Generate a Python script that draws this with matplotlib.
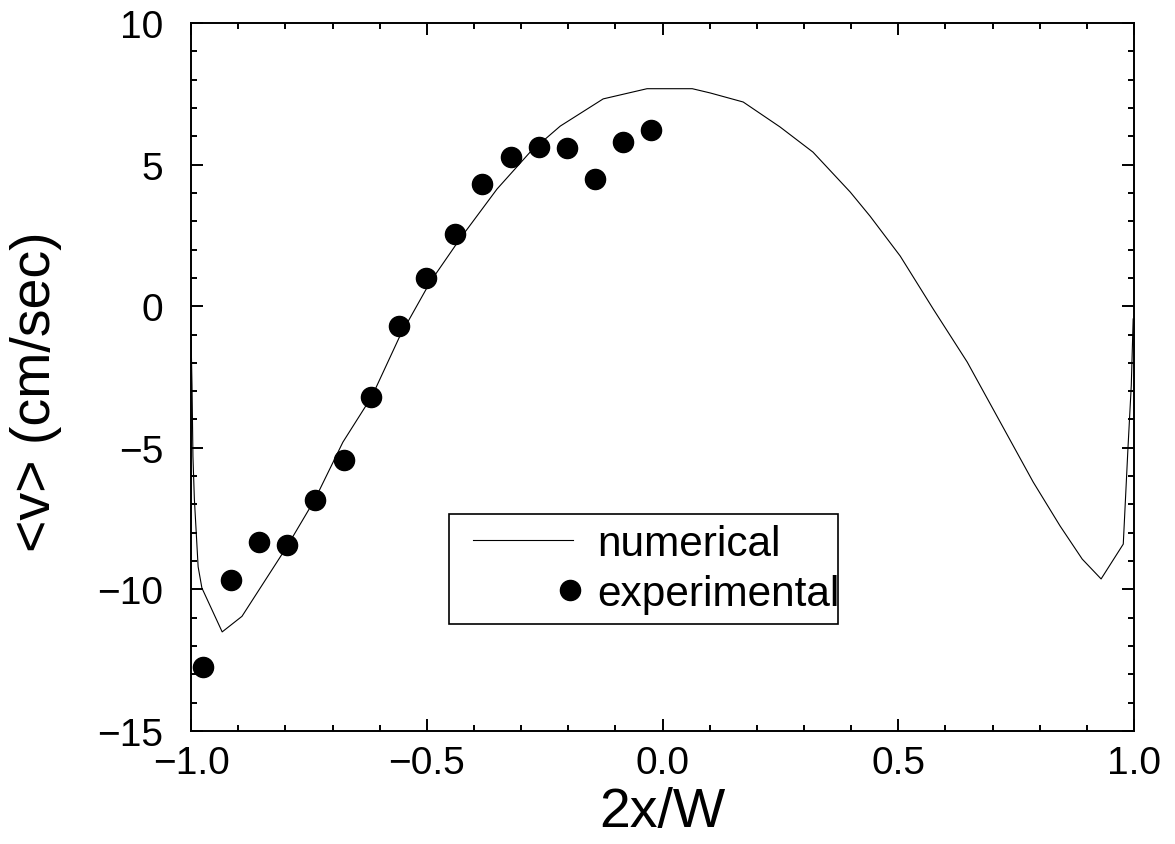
import matplotlib
matplotlib.use("Agg")
import matplotlib.pyplot as plt
from matplotlib.ticker import MultipleLocator
from matplotlib.legend_handler import HandlerLine2D

plt.rcParams['font.family'] = ['Liberation Sans', 'DejaVu Sans']

# numerical profile
num_x = [-1.0, -0.998, -0.996, -0.993, -0.985, -0.977, -0.934, -0.892, -0.796,
         -0.737, -0.678, -0.616, -0.557, -0.493, -0.430, -0.351, -0.281, -0.217,
         -0.126, -0.033, 0.063, 0.101, 0.171, 0.249, 0.319, 0.398, 0.440, 0.504,
         0.574, 0.646, 0.716, 0.786, 0.843, 0.890, 0.930, 0.977, 0.987, 0.994, 0.998]
num_v = [-1.1, -2.8, -5.3, -6.8, -9.2, -9.95, -11.5, -10.95, -8.47,
         -6.81, -4.80, -3.17, -1.05, 0.85, 2.37, 4.14, 5.44, 6.36,
         7.32, 7.68, 7.68, 7.53, 7.21, 6.33, 5.44, 4.03, 3.18, 1.77,
         -0.10, -1.97, -4.09, -6.21, -7.76, -8.93, -9.63, -8.4, -5.0, -2.8, -0.45]

# experimental points
exp_x = [-0.975, -0.915, -0.856, -0.796, -0.737, -0.676, -0.618, -0.559, -0.502,
         -0.440, -0.383, -0.321, -0.262, -0.203, -0.143, -0.084, -0.024]
exp_v = [-12.74, -9.67, -8.33, -8.43, -6.84, -5.43, -3.21, -0.70, 1.00,
         2.55, 4.31, 5.27, 5.62, 5.59, 4.49, 5.80, 6.22]


class InsetLine(HandlerLine2D):
    # legend line that does not fill the whole handle box
    def get_xdata(self, legend, xdescent, ydescent, width, height, fontsize):
        x0 = -xdescent + 0.33 * fontsize
        x1 = -xdescent + width - 0.27 * fontsize
        return [x0, x1], [(x0 + x1) / 2]


class EndMarker(HandlerLine2D):
    # legend dot sits at the right end of the handle, next to the text
    def get_xdata(self, legend, xdescent, ydescent, width, height, fontsize):
        end = -xdescent + width - 0.34 * fontsize
        return [end - 1, end + 1], [end]


fig = plt.figure(figsize=(11.75, 8.45), dpi=100)
ax = fig.add_axes([0.1626, 0.1337, 0.8026, 0.8379])

line, = ax.plot(num_x, num_v, color='black', lw=0.8, label='numerical')
dots, = ax.plot(exp_x, exp_v, 'o', color='black', ms=14.5, label='experimental')

ax.set_xlim(-1, 1)
ax.set_ylim(-15, 10)
ax.xaxis.set_major_locator(MultipleLocator(0.5))
ax.xaxis.set_minor_locator(MultipleLocator(0.1))
ax.yaxis.set_major_locator(MultipleLocator(5))
ax.yaxis.set_minor_locator(MultipleLocator(1))

ax.tick_params(which='both', direction='in', top=True, right=True, width=1.4)
ax.tick_params(which='major', length=8.5, labelsize=28)
ax.tick_params(which='minor', length=4.5)
ax.tick_params(axis='y', pad=20)
ax.tick_params(axis='x', pad=10)
for s in ax.spines.values():
    s.set_linewidth(1.4)

ax.set_xlabel('2x/W', fontsize=40, labelpad=4)
ax.set_ylabel('<v> (cm/sec)', fontsize=40)
ax.yaxis.set_label_coords(-0.137, 0.48)

leg = ax.legend(handles=[line, dots], loc='upper left',
                bbox_to_anchor=(0.274, 0.158, 0.412, 0.1485), mode='expand',
                fontsize=30.5, handlelength=2.96, handletextpad=0.3,
                labelspacing=0.24, borderpad=0.23, borderaxespad=0,
                fancybox=False, framealpha=1, edgecolor='black',
                handler_map={line: InsetLine(numpoints=1),
                             dots: EndMarker(numpoints=1)})
leg.get_frame().set_linewidth(1.2)

fig.savefig('out.png', dpi=100)
